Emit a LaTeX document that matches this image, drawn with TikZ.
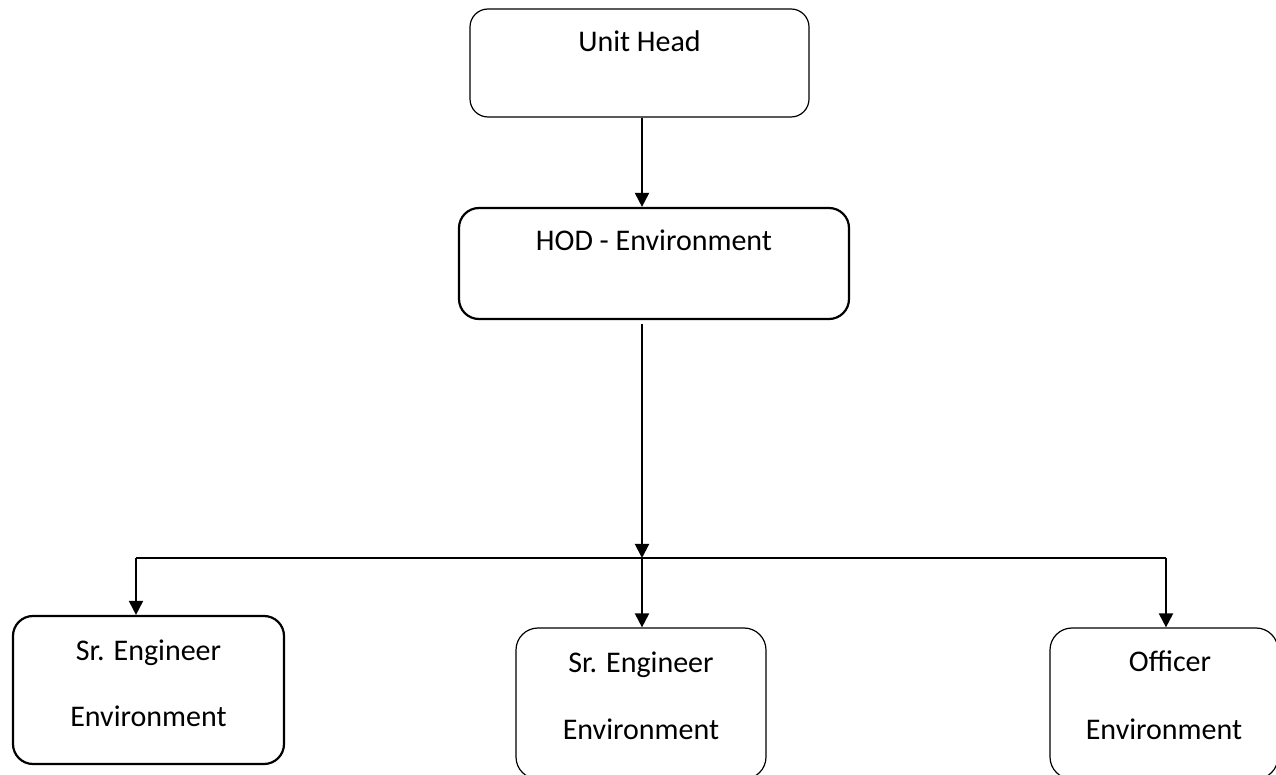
\documentclass[tikz,border=0pt]{standalone}
\usepackage{fontspec}
\setmainfont{Carlito}
\usetikzlibrary{arrows.meta}
\begin{document}
\begin{tikzpicture}[x=0.5pt,y=-0.5pt,
  box/.style={draw, rounded corners=9pt, line width=0.6pt, inner sep=0pt},
  boxthick/.style={box, line width=1.1pt, rounded corners=10pt},
  txt/.style={font=\fontsize{15}{18}\selectfont, anchor=base, inner sep=0pt},
  arr/.style={line width=1pt, -{Triangle[length=7pt,width=7pt]}},
  link/.style={line width=0.9pt}
]
\useasboundingbox (0,0) rectangle (1276,775);
\clip (0,0) rectangle (1276,775);

% boxes
\node[box, minimum width=169.5pt, minimum height=54pt] (uh) at (639.5,63) {};
\node[boxthick, minimum width=195pt, minimum height=55.5pt] (hod) at (654,263.5) {};
\node[boxthick, minimum width=135.5pt, minimum height=74pt] (ls) at (148.5,690) {};
\node[box, rounded corners=11pt, minimum width=125pt, minimum height=75.5pt] (ms) at (641,703.5) {};
\node[box, rounded corners=11pt, minimum width=114pt, minimum height=75.5pt] (rs) at (1164,703.5) {};

% texts
\node[txt] (uht) at ([yshift=-21.5pt]uh.north) {Unit Head};
\node[txt] (hodt) at ([yshift=-22pt]hod.north) {HOD - Environment};
\node[txt] (lst1) at ([yshift=-23pt]ls.north) {Sr. Engineer};
\node[txt] (lst2) at ([yshift=-56pt]ls.north) {Environment};
\node[txt] (mst1) at ([yshift=-22.5pt]ms.north) {Sr. Engineer};
\node[txt] (mst2) at ([yshift=-56pt]ms.north) {Environment};
\node[txt] (rst1) at ([yshift=-22pt,xshift=3pt]rs.north) {Officer};
\node[txt] (rst2) at ([yshift=-56pt]rs.north) {Environment};

% connectors
\coordinate (j) at (642,558);
\coordinate (jl) at (136,558);
\coordinate (jr) at (1166,558);
\draw[arr] (uh.south -| j) -- (hod.north -| j);
\draw[arr, shorten <=2pt] (hod.south -| j) -- (j);
\draw[link] (jl) -- (jr);
\draw[arr] (jl) -- (ls.north -| jl);
\draw[arr] (j) -- (ms.north -| j);
\draw[arr] (jr) -- (rs.north -| jr);
\end{tikzpicture}
\end{document}
